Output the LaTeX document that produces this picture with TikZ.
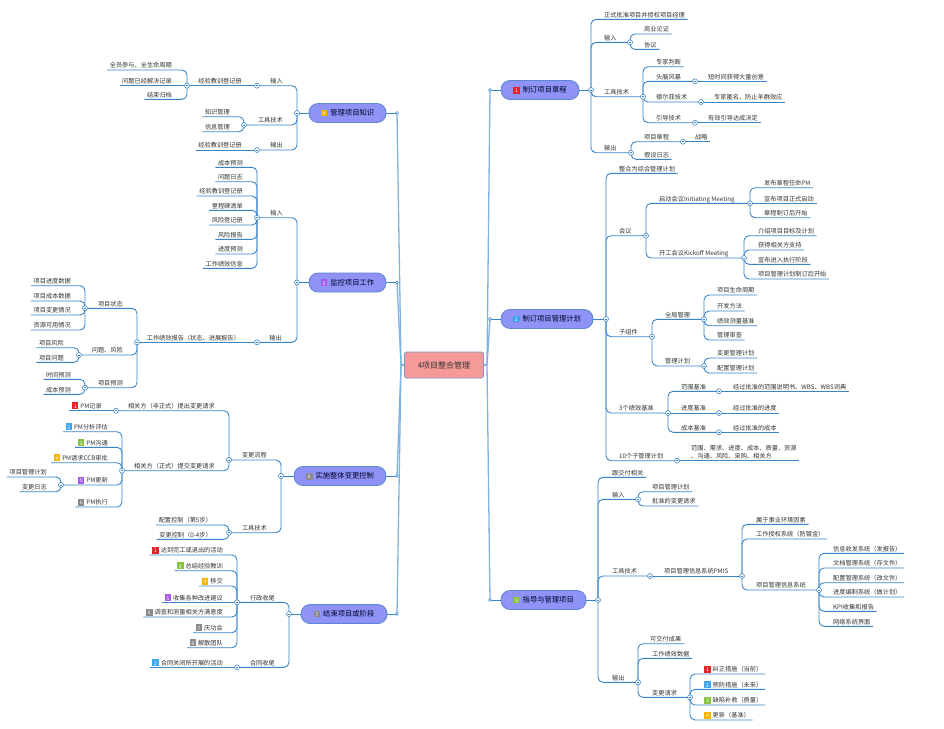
\documentclass[tikz,border=0pt]{standalone}
\usepackage{fontspec}
\setmainfont{Noto Sans CJK SC}
\definecolor{brc}{HTML}{3A85C9}
\definecolor{trc}{HTML}{80B3E2}
\definecolor{txc}{HTML}{333333}
\definecolor{tpf}{HTML}{8F93F6}
\definecolor{tpd}{HTML}{5C86D0}
\definecolor{rtf}{HTML}{F69999}
\definecolor{rtd}{HTML}{7E97C9}
\definecolor{red1}{HTML}{E3242B}
\definecolor{blue2}{HTML}{3AA7F0}
\definecolor{green3}{HTML}{86C440}
\definecolor{yel4}{HTML}{F7B500}
\definecolor{pur5}{HTML}{A35BE8}
\definecolor{gry}{HTML}{8A8A8A}
\newcommand\lab{\fontsize{6.2}{7.5}\selectfont}
\newcommand\badge[2]{{\setlength{\fboxsep}{0pt}\colorbox{#1}{\makebox[6.5pt]{\rule[-0.8pt]{0pt}{6.8pt}\textcolor{white}{\fontsize{5}{5}\selectfont #2}}}}}
\tikzset{
 brl/.style={draw=brc, line width=0.9pt, rounded corners=5pt},
 trunk/.style={draw=trc, line width=1.3pt},
 rt/.style={anchor=south west, inner xsep=2.5pt, inner ysep=1.2pt, text height=5.2pt, text depth=0.9pt, font=\lab, text=txc},
 lt/.style={rt, anchor=south east},
 two/.style={anchor=south west, inner xsep=2.5pt, inner ysep=1.4pt, align=left, font=\fontsize{6.2}{8}\selectfont, text=txc},
 topic/.style={rounded corners=9pt, fill=tpf, draw=tpd, line width=0.8pt, minimum height=19pt, inner sep=0pt, font=\fontsize{7.3}{8}\selectfont, text=black!85!blue},
 rootbox/.style={rounded corners=2pt, fill=rtf, draw=rtd, line width=0.7pt, minimum width=79pt, minimum height=26pt, font=\fontsize{8}{9}\selectfont, text=txc},
 tog/.style={circle, draw=brc, fill=white, line width=0.6pt, minimum size=5pt, inner sep=0pt,
   path picture={\draw[brc, line width=0.6pt] ([xshift=-1.4pt]path picture bounding box.center) -- ([xshift=1.4pt]path picture bounding box.center);}},
 tsm/.style={circle, draw=brc, fill=white, line width=0.5pt, minimum size=3pt, inner sep=0pt},
}
% right side
\newcommand\RL[5]{\node[rt] (#1) at ({#3-2.5},#4) {#5}; \draw[brl] (#2) |- (#1.south east);}
\newcommand\RLs[5]{\node[rt] (#1) at ({#3-2.5},#4) {#5}; \draw[brl] (#2) -- (#1.south east);}
\newcommand\RB[6]{\node[rt] (#1) at ({#3-2.5},#4) {#6}; \coordinate (#1c) at (#5,#4); \draw[brl] (#2) |- (#1c);}
\newcommand\RBs[6]{\node[rt] (#1) at ({#3-2.5},#4) {#6}; \coordinate (#1c) at (#5,#4); \draw[brl] (#2) -- (#1c);}
% left side
\newcommand\LL[5]{\node[lt] (#1) at ({#3+2.5},#4) {#5}; \draw[brl] (#2) |- (#1.south west);}
\newcommand\LLs[5]{\node[lt] (#1) at ({#3+2.5},#4) {#5}; \draw[brl] (#2) -- (#1.south west);}
\newcommand\LB[6]{\node[lt] (#1) at ({#3+2.5},#4) {#6}; \coordinate (#1c) at (#5,#4); \draw[brl] (#2) |- (#1c);}
\newcommand\LBs[6]{\node[lt] (#1) at ({#3+2.5},#4) {#6}; \coordinate (#1c) at (#5,#4); \draw[brl] (#2) -- (#1c);}
\begin{document}
\begin{tikzpicture}[x=1pt,y=-1pt]
\fill[white] (0,0) rectangle (944,728);
\useasboundingbox (0,0) rectangle (944,728);
% root and trunk
\node[rootbox] (root) at (444,365) {4项目整合管理};
\coordinate (rootL) at (401,365);
\coordinate (rootR) at (487,365);
\coordinate (tc1) at (490,90);
\coordinate (tc2) at (490,319);
\coordinate (tc3) at (490,600);
\coordinate (tc4) at (397,113);
\coordinate (tc5) at (397,282.5);
\coordinate (tc6) at (397,476);
\coordinate (tc7) at (397,614);
\draw[trunk] (root.east) -- (rootR);
\draw[trunk] (root.west) -- (rootL);
\foreach \q in {tc1,tc2,tc3} \draw[trunk] (rootR) -- (\q);
\foreach \q in {tc4,tc5,tc6,tc7} \draw[trunk] (rootL) -- (\q);
% topics
\node[topic, minimum width=78pt] (t1) at (540,90) {\badge{red1}{1}\hspace{3pt}制订项目章程};
\node[topic, minimum width=92pt] (t2) at (547,319) {\badge{blue2}{2}\hspace{3pt}制订项目管理计划};
\node[topic, minimum width=85pt] (t3) at (543.5,600) {\badge{green3}{3}\hspace{3pt}指导与管理项目};
\node[topic, minimum width=77pt] (t4) at (347.5,113) {\badge{yel4}{4}\hspace{3pt}管理项目知识};
\node[topic, minimum width=77pt] (t5) at (347.5,282.5) {\badge{pur5}{5}\hspace{3pt}监控项目工作};
\node[topic, minimum width=92pt] (t6) at (340,476) {\badge{gry}{6}\hspace{3pt}实施整体变更控制};
\node[topic, minimum width=86pt] (t7) at (344,614) {\badge{gry}{7}\hspace{3pt}结束项目或阶段};
\coordinate (c1) at (591,90);
\coordinate (c2) at (606,319);
\coordinate (c3) at (598,600);
\coordinate (c4) at (297,113);
\coordinate (c5) at (297,282.5);
\coordinate (c6) at (281,476);
\coordinate (c7) at (289,614);
\foreach \n in {1,2,3} {\draw[brl] (tc\n) -- (t\n.west); \draw[brl] (t\n.east) -- (c\n);}
\foreach \n in {4,5,6,7} {\draw[brl] (tc\n) -- (t\n.east); \draw[brl] (t\n.west) -- (c\n);}
% ===== ch1 =====
\RL{a1}{c1}{604}{19.3}{正式批准项目并授权项目经理}
\RB{a2}{c1}{604}{42.3}{630}{输入}
\RL{a21}{a2c}{644}{34}{商业论证}
\RL{a22}{a2c}{644}{49.3}{协议}
\RB{a3}{c1}{604}{96.7}{643}{工具技术}
\RL{a31}{a3c}{656}{66.7}{专家判断}
\RB{a32}{a3c}{656}{81.3}{695}{头脑风暴}
\RLs{a321}{a32c}{708}{81.3}{短时间获得大量创意}
\RB{a33}{a3c}{656}{102}{701}{德尔菲技术}
\RLs{a331}{a33c}{714}{102}{专家匿名、防止羊群效应}
\RB{a34}{a3c}{656}{122.7}{695}{引导技术}
\RLs{a341}{a34c}{708}{122.7}{有效引导达成决定}
\RB{a4}{c1}{604}{152.7}{631}{输出}
\RB{a41}{a4c}{644}{141.7}{683}{项目章程}
\RLs{a411}{a41c}{695}{141.7}{战略}
\RL{a42}{a4c}{644}{159.3}{假设日志}
% ===== ch2 =====
\RL{b1}{c2}{619}{173.3}{整合为综合管理计划}
\RB{b2}{c2}{619}{235.7}{646}{会议}
\RB{b21}{b2c}{659}{203.3}{750}{启动会议Initiating Meeting}
\RL{b211}{b21c}{764}{187.7}{发布章程任命PM}
\RLs{b212}{b21c}{764}{203.3}{宣布项目正式启动}
\RL{b213}{b21c}{764}{217.7}{章程制订后开始}
\RB{b22}{b2c}{659}{258}{744}{开工会议Kickoff Meeting}
\RL{b221}{b22c}{758}{235.7}{介绍项目目标及计划}
\RL{b222}{b22c}{758}{250}{获得相关方支持}
\RL{b223}{b22c}{758}{264.3}{宣布进入执行阶段}
\RL{b224}{b22c}{758}{279}{项目管理计划制订后开始}
\RB{b3}{c2}{619}{336.7}{652}{子组件}
\RB{b31}{b3c}{665}{319.3}{704}{全局管理}
\RL{b311}{b31c}{717}{295}{项目生命周期}
\RL{b312}{b31c}{717}{311}{开发方法}
\RL{b313}{b31c}{717}{325.7}{绩效测量基准}
\RL{b314}{b31c}{717}{340}{管理审查}
\RB{b32}{b3c}{665}{366}{704}{管理计划}
\RL{b321}{b32c}{717}{358}{变更管理计划}
\RL{b322}{b32c}{717}{373}{配置管理计划}
\RB{b4}{c2}{619}{413}{668}{3个绩效基准}
\RB{b41}{b4c}{681}{391.3}{719}{范围基准}
\RLs{b411}{b41c}{733}{391.3}{经过批准的范围说明书、WBS、WBS词典}
\RBs{b42}{b4c}{681}{413}{719}{进度基准}
\RLs{b421}{b42c}{733}{413}{经过批准的进度}
\RB{b43}{b4c}{681}{432.3}{719}{成本基准}
\RLs{b431}{b43c}{733}{432.3}{经过批准的成本}
\RB{b5}{c2}{619}{460.7}{677}{10个子管理计划}
\node[two] (b51) at (688.5,460.7) {范围、需求、进度、成本、质量、资源\\、沟通、风险、采购、相关方};
\draw[brl] (b5c) -- (b51.south east);
% ===== ch3 =====
\RL{d1}{c3}{612}{477.3}{跟交付相关}
\RB{d2}{c3}{612}{499.3}{638}{输入}
\RL{d21}{d2c}{652}{491.7}{项目管理计划}
\RL{d22}{d2c}{652}{506}{批准的变更请求}
\RB{d3}{c3}{612}{576}{650}{工具技术}
\RBs{d31}{d3c}{664}{576}{742}{项目管理信息系统PMIS}
\RL{d311}{d31c}{756}{524.3}{属于事业环境因素}
\RL{d312}{d31c}{756}{539}{工作授权系统（防镀金）}
\RB{d313}{d31c}{756}{590}{819}{项目管理信息系统}
\RL{d3131}{d313c}{833}{553.3}{信息收发系统（发报告）}
\RL{d3132}{d313c}{833}{568}{文档管理系统（存文件）}
\RL{d3133}{d313c}{833}{582.7}{配置管理系统（改文件）}
\RL{d3134}{d313c}{833}{597}{进度编制系统（做计划）}
\RL{d3135}{d313c}{833}{611.3}{KPI收集和报告}
\RL{d3136}{d313c}{833}{626.3}{网络系统界面}
\RB{d4}{c3}{612}{682.3}{638}{输出}
\RL{d41}{d4c}{650}{643.7}{可交付成果}
\RL{d42}{d4c}{652}{658.3}{工作绩效数据}
\RB{d43}{d4c}{652}{697.3}{690}{变更请求}
\RL{d431}{d43c}{704}{674}{\badge{red1}{1}\hspace{2pt}纠正措施（当前）}
\RL{d432}{d43c}{704}{689.3}{\badge{blue2}{2}\hspace{2pt}预防措施（未来）}
\RL{d433}{d43c}{704}{705}{\badge{green3}{3}\hspace{2pt}缺陷补救（质量）}
\RL{d434}{d43c}{704}{720}{\badge{yel4}{4}\hspace{2pt}更新（基准）}
% ===== ch4 =====
\LB{e1}{c4}{283}{85.7}{257}{输入}
\LBs{e11}{e1c}{242}{85.7}{187}{经验教训登记册}
\LL{e111}{e11c}{172}{70}{全员参与、全生命周期}
\LLs{e112}{e11c}{172}{85.7}{问题已经解决记录}
\LL{e113}{e11c}{172}{99.3}{结束归档}
\LB{e2}{c4}{283}{125}{244}{工具技术}
\LL{e21}{e2c}{230}{116.7}{知识管理}
\LL{e22}{e2c}{230}{131.7}{信息管理}
\LB{e3}{c4}{283}{150}{257}{输出}
\LLs{e31}{e3c}{242}{150}{经验教训登记册}
% ===== ch5 =====
\LB{f1}{c5}{283}{217.7}{257}{输入}
\LL{f11}{f1c}{243}{167.3}{成本预测}
\LL{f12}{f1c}{243}{181.7}{问题日志}
\LL{f13}{f1c}{243}{196}{经验教训登记册}
\LL{f14}{f1c}{243}{210.3}{里程碑清单}
\LL{f15}{f1c}{243}{225}{风险登记册}
\LL{f16}{f1c}{243}{239.3}{风险报告}
\LL{f17}{f1c}{243}{254}{进度预测}
\LL{f18}{f1c}{243}{268.3}{工作绩效信息}
\LB{f2}{c5}{282}{342.3}{257}{输出}
\LBs{f21}{f2c}{240}{342.3}{137}{工作绩效报告（状态、进展报告）}
\LB{f211}{f21c}{123}{308.3}{85}{项目状态}
\LL{f2111}{f211c}{71}{285.7}{项目进度数据}
\LL{f2112}{f211c}{71}{301}{项目成本数据}
\LL{f2113}{f211c}{71}{315}{项目变更情况}
\LL{f2114}{f211c}{71}{330}{资源可用情况}
\LB{f212}{f21c}{123}{355}{79}{问题、风险}
\LL{f2121}{f212c}{64}{347.7}{项目风险}
\LL{f2122}{f212c}{64}{362.3}{项目问题}
\LB{f213}{f21c}{123}{387.7}{85}{项目预测}
\LL{f2131}{f213c}{71}{379.3}{时间预测}
\LL{f2132}{f213c}{71}{394.3}{成本预测}
% ===== ch6 =====
\LB{g1}{c6}{267}{460}{229}{变更流程}
\LB{g11}{g1c}{215}{410.7}{116}{相关方（非正式）提出变更请求}
\LLs{g111}{g11c}{102}{410.7}{\badge{red1}{1}\hspace{2pt}PM记录}
\LB{g12}{g1c}{215}{470.7}{122}{相关方（正式）提交变更请求}
\LL{g121}{g12c}{108}{431.7}{\badge{blue2}{2}\hspace{2pt}PM分析评估}
\LL{g122}{g12c}{108}{447.3}{\badge{green3}{3}\hspace{2pt}PM沟通}
\LL{g123}{g12c}{108}{462.7}{\badge{yel4}{4}\hspace{2pt}PM请求CCB审批}
\LB{g124}{g12c}{108}{485}{61}{\badge{pur5}{5}\hspace{2pt}PM更新}
\LL{g1241}{g124c}{47}{477}{项目管理计划}
\LL{g1242}{g124c}{47}{491.7}{变更日志}
\LL{g125}{g12c}{108}{507}{\badge{gry}{6}\hspace{2pt}PM执行}
\LB{g2}{c6}{267}{532.7}{229}{工具技术}
\LL{g21}{g2c}{212}{525}{配置控制（第5步）}
\LL{g22}{g2c}{212}{539.3}{变更控制（0-4步）}
% ===== ch7 =====
\LB{h1}{c7}{275}{602.3}{237}{行政收尾}
\LL{h11}{h1c}{223}{555}{\badge{red1}{1}\hspace{2pt}达到完工或退出的活动}
\LL{h12}{h1c}{223}{570.7}{\badge{green3}{3}\hspace{2pt}总结经验教训}
\LL{h13}{h1c}{223}{586}{\badge{yel4}{4}\hspace{2pt}移交}
\LLs{h14}{h1c}{223}{602.3}{\badge{pur5}{5}\hspace{2pt}收集各种改进建议}
\LL{h15}{h1c}{223}{617}{\badge{gry}{6}\hspace{2pt}调查和测量相关方满意度}
\LL{h16}{h1c}{223}{632.7}{\badge{gry}{7}\hspace{2pt}庆功会}
\LL{h17}{h1c}{223}{647.7}{\badge{gry}{8}\hspace{2pt}解散团队}
\LB{h2}{c7}{275}{667.3}{237}{合同收尾}
\LLs{h21}{h2c}{223}{667.3}{\badge{blue2}{2}\hspace{2pt}合同关闭所开展的活动}
% ===== toggles =====
\foreach \q in {c1,a2c,a3c,a32c,a33c,a34c,a4c,a41c,c2,b2c,b21c,b22c,b3c,b31c,b32c,b4c,b41c,b42c,b43c,b5c,c3,d2c,d3c,d31c,d313c,d4c,d43c,c4,e1c,e11c,e2c,e3c,c5,f1c,f2c,f21c,f211c,f212c,f213c,c6,g1c,g11c,g12c,g124c,g2c,c7,h1c,h2c}
  \node[tog] (\q t) at (\q) {};
\foreach \q in {tc1,tc2,tc3,tc4,tc5,tc6,tc7}
  \node[tsm] (\q s) at (\q) {};
\end{tikzpicture}
\end{document}
